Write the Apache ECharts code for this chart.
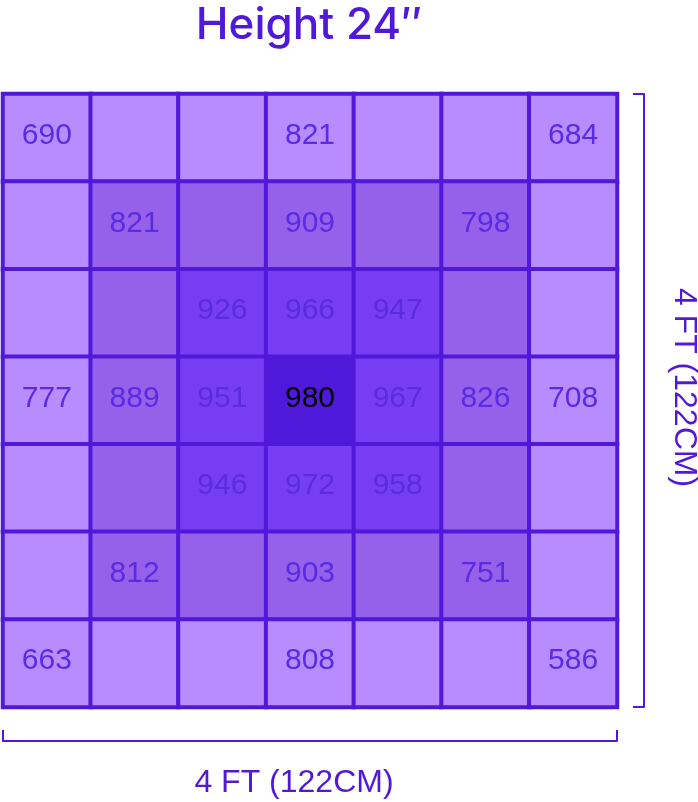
<!DOCTYPE html>
<html>
<head>
<meta charset="utf-8">
<script src="https://cdn.jsdelivr.net/npm/echarts@6/dist/echarts.min.js"></script>
<style>
html,body{margin:0;padding:0;background:#fff;}
#main{width:698px;height:802px;}
</style>
</head>
<body>
<div id="main"></div>
<script>
// Columns and rows of the 4 ft x 4 ft grid (rows listed top to bottom)
var columns = ['1', '2', '3', '4', '5', '6', '7'];
var rows = ['1', '2', '3', '4', '5', '6', '7'];

// PPFD readings per cell ('' = not measured / no label)
var row1 = [690, '', '', 821, '', '', 684];
var row2 = ['', 821, '', 909, '', 798, ''];
var row3 = ['', '', 926, 966, 947, '', ''];
var row4 = [777, 889, 951, 980, 967, 826, 708];
var row5 = ['', '', 946, 972, 958, '', ''];
var row6 = ['', 812, '', 903, '', 751, ''];
var row7 = [663, '', '', 808, '', '', 586];
var readings = [row1, row2, row3, row4, row5, row6, row7];

// Colour zone of each cell (0 = centre, 3 = outer ring)
var zoneRow1 = [3, 3, 3, 3, 3, 3, 3];
var zoneRow2 = [3, 2, 2, 2, 2, 2, 3];
var zoneRow3 = [3, 2, 1, 1, 1, 2, 3];
var zoneRow4 = [3, 2, 1, 0, 1, 2, 3];
var zoneRow5 = [3, 2, 1, 1, 1, 2, 3];
var zoneRow6 = [3, 2, 2, 2, 2, 2, 3];
var zoneRow7 = [3, 3, 3, 3, 3, 3, 3];
var zones = [zoneRow1, zoneRow2, zoneRow3, zoneRow4, zoneRow5, zoneRow6, zoneRow7];

var zoneColors = ['#5019d9', '#773df3', '#9561ea', '#b88cff'];
var zoneTextColors = ['#000000', '#5a2be0', '#5a2be0', '#5a2be0'];

var titleText = 'Height 24\u2033';
var widthLabel = '4 FT (122CM)';
var heightLabel = '4 FT (122CM)';

var PURPLE = '#5019d9';
var FONT = '"Liberation Sans", Arial, sans-serif';

var data = [];
for (var r = 0; r < rows.length; r++) {
  for (var c = 0; c < columns.length; c++) {
    var z = zones[r][c];
    data.push({
      value: [c, r, z, readings[r][c]],
      label: { color: zoneTextColors[z] }
    });
  }
}

var chart = echarts.init(document.getElementById('main'), null, { renderer: 'canvas' });
chart.setOption({
  backgroundColor: '#ffffff',
  animation: false,
  title: {
    text: titleText,
    left: 304,
    top: -1,
    textAlign: 'center',
    textStyle: { color: PURPLE, fontSize: 44, fontWeight: 500, fontFamily: 'Inter, ' + FONT }
  },
  grid: { left: 3, top: 94, width: 614, height: 613, outerBoundsMode: 'none', containLabel: false },
  xAxis: [{
    type: 'category',
    data: columns,
    show: false
  }, {
    type: 'value',
    position: 'bottom',
    min: 0, max: 7, interval: 7,
    offset: 34,
    axisLine: { show: true, lineStyle: { color: PURPLE, width: 2 } },
    axisTick: { show: true, inside: true, length: 11, lineStyle: { color: PURPLE, width: 2 } },
    axisLabel: { show: false },
    splitLine: { show: false },
    name: widthLabel,
    nameLocation: 'middle',
    nameGap: 26,
    nameTextStyle: { color: PURPLE, fontSize: 32, fontFamily: FONT, padding: [0, 32, 0, 0] }
  }],
  yAxis: [{
    type: 'category',
    data: rows,
    inverse: true,
    show: false
  }, {
    type: 'value',
    position: 'right',
    min: 0, max: 7, interval: 7,
    offset: 27,
    axisLine: { show: true, lineStyle: { color: PURPLE, width: 2 } },
    axisTick: { show: true, inside: true, length: 11, lineStyle: { color: PURPLE, width: 2 } },
    axisLabel: { show: false },
    splitLine: { show: false },
    name: heightLabel,
    nameLocation: 'middle',
    nameRotate: -90,
    nameGap: 24,
    nameTextStyle: { color: PURPLE, fontSize: 32, fontFamily: FONT, padding: [0, 26, 0, 0] }
  }],
  visualMap: {
    show: false,
    type: 'piecewise',
    dimension: 2,
    seriesIndex: 0,
    pieces: zoneColors.map(function (col, i) { return { value: i, color: col }; })
  },
  series: [{
    type: 'heatmap',
    xAxisIndex: 0,
    yAxisIndex: 0,
    data: data,
    itemStyle: { borderColor: PURPLE, borderWidth: 4 },
    label: {
      show: true,
      fontSize: 30,
      fontFamily: FONT,
      offset: [0, -2],
      formatter: function (p) { return p.data.value[3] === '' ? '' : String(p.data.value[3]); }
    },
    emphasis: { disabled: true }
  }]
});
</script>
</body>
</html>
